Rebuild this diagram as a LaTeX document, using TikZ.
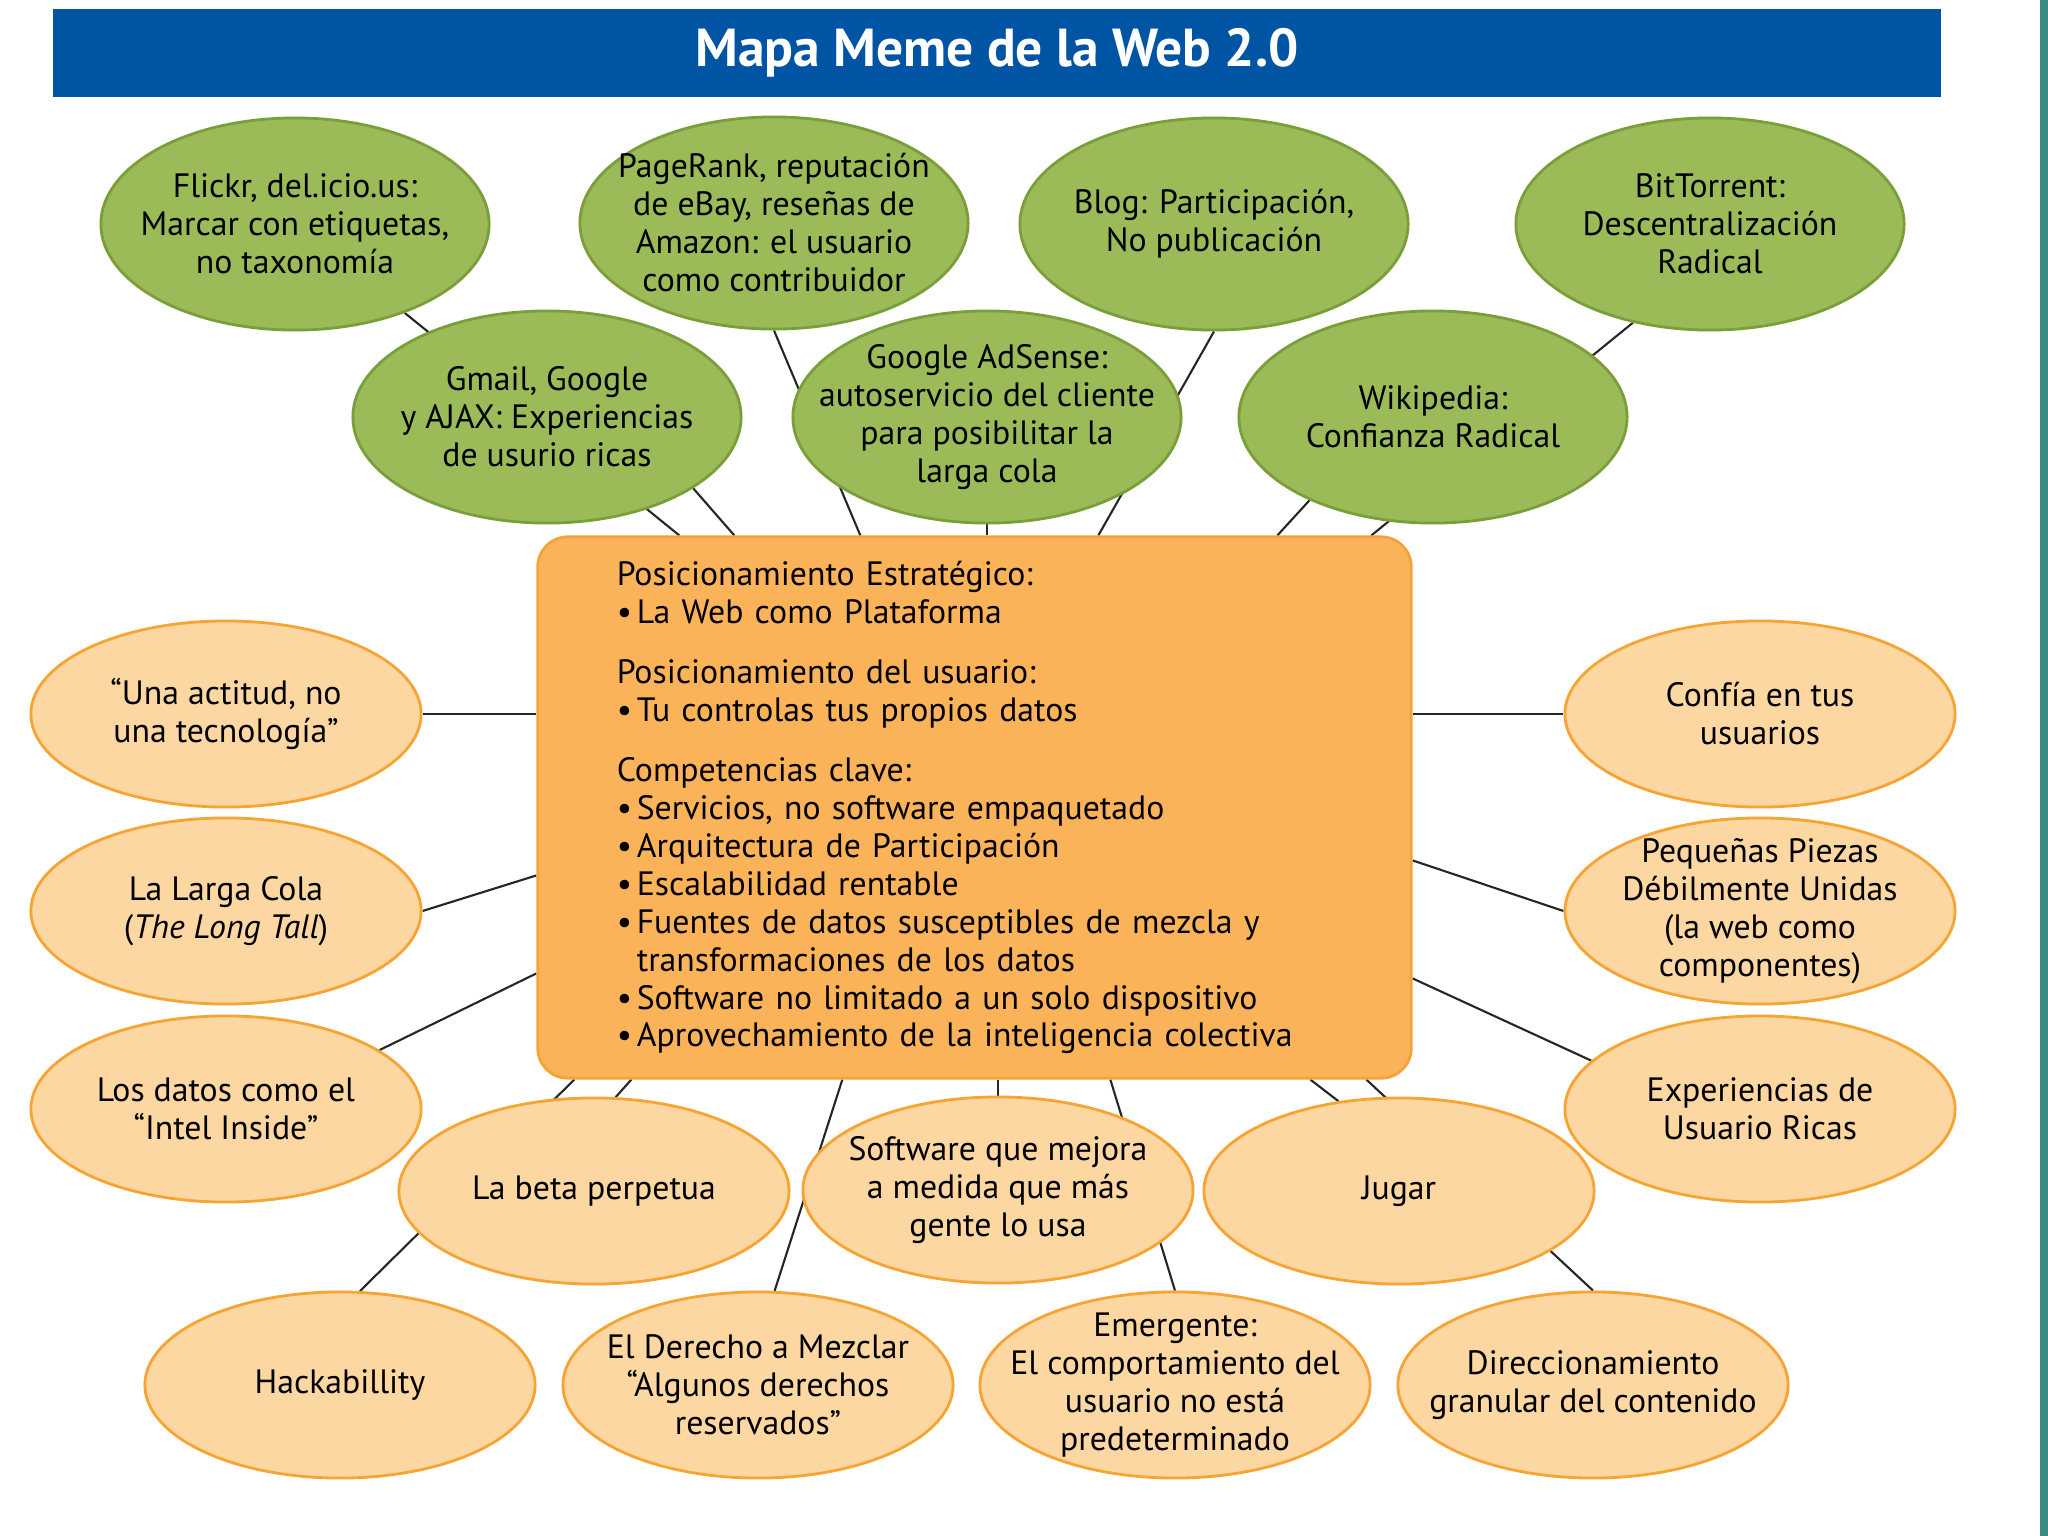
\documentclass[tikz,border=0pt]{standalone}
\usepackage{fontspec}
\setmainfont{PT Sans}
\usetikzlibrary{shapes.geometric, calc, backgrounds}
\definecolor{cTitle}{RGB}{0,84,164}
\definecolor{cLeaf}{RGB}{155,187,89}
\definecolor{cLeafLine}{RGB}{122,158,58}
\definecolor{cPeach}{RGB}{253,215,162}
\definecolor{cPeachLine}{RGB}{246,164,52}
\definecolor{cCore}{RGB}{251,179,90}
\definecolor{cCoreLine}{RGB}{246,162,58}
\definecolor{cStripeA}{RGB}{58,140,128}
\definecolor{cStripeB}{RGB}{150,200,30}
\newcommand{\bodyfont}{\fontsize{9.6}{10.8}\selectfont}
\newcommand{\titlefont}{\fontsize{15.2}{18}\selectfont\bfseries}
\newcommand{\itm}{\makebox[0.2cm][l]{•}}
\tikzset{
	greenbub/.style={ellipse, draw=cLeafLine, line width=0.8pt, fill=cLeaf, minimum width=3.88cm, minimum height=2.12cm, inner xsep=-0.9cm, inner ysep=-0.6cm, align=center},
	peachbub/.style={ellipse, draw=cPeachLine, line width=0.8pt, fill=cPeach, minimum width=3.9cm, minimum height=1.86cm, inner xsep=-0.9cm, inner ysep=-0.6cm, align=center},
	corebox/.style ={rectangle, rounded corners=0.3cm, draw=cCoreLine, line width=0.8pt, fill=cCore, minimum width=8.73cm, minimum height=5.41cm, text width=7.15cm, align=left, inner sep=0pt},
	spoke/.style   ={line width=0.6pt, black!85},
}

\begin{document}
\begin{tikzpicture}[x=0.01cm, y=-0.01cm, font=\bodyfont]
	\useasboundingbox (0,0) rectangle (2048,1536);
	% title bar and side stripe
	\node[fill=cTitle, minimum width=18.86cm, minimum height=0.87cm, inner sep=0pt, text=white, font=\titlefont] (title) at (997,53) {Mapa Meme de la Web 2.0};
	\shade[top color=cStripeA, middle color=cStripeB, bottom color=cStripeA] (2040,0) rectangle (2048,1536);
	% core
	\node[corebox] (core) at (974.5,807.5) {Posicionamiento Estratégico:\\
		\itm La Web como Plataforma\\[0.22cm]
		Posicionamiento del usuario:\\
		\itm Tu controlas tus propios datos\\[0.22cm]
		Competencias clave:\\
		\itm Servicios, no software empaquetado\\
		\itm Arquitectura de Participación\\
		\itm Escalabilidad rentable\\
		\itm Fuentes de datos susceptibles de mezcla y\\
		\hspace*{0.2cm}transformaciones de los datos\\
		\itm Software no limitado a un solo dispositivo\\
		\itm Aprovechamiento de la inteligencia colectiva};
	% examples (green)
	\node[greenbub] (flickr) at (295,224) {Flickr, del.icio.us:\\Marcar con etiquetas,\\no taxonomía};
	\node[greenbub] (pagerank) at (774,223) {PageRank, reputación\\de eBay, reseñas de\\Amazon: el usuario\\como contribuidor};
	\node[greenbub] (blog) at (1214,224) {Blog: Participación,\\No publicación};
	\node[greenbub] (bittorrent) at (1710,224) {BitTorrent:\\Descentralización\\Radical};
	\node[greenbub] (gmail) at (547,417) {Gmail, Google\\y AJAX: Experiencias\\de usurio ricas};
	\node[greenbub] (adsense) at (987,417) {Google AdSense:\\autoservicio del cliente\\para posibilitar la\\larga cola};
	\node[greenbub] (wiki) at (1433,417) {Wikipedia:\\Confianza Radical};
	% principles (peach)
	\node[peachbub] (actitud) at (226,714) {“Una actitud, no\\una tecnología”};
	\node[peachbub] (larga) at (226,911) {La Larga Cola\\(\textit{The Long Tall})};
	\node[peachbub] (datos) at (226,1109) {Los datos como el\\“Intel Inside”};
	\node[peachbub] (confia) at (1760,714) {Confía en tus\\usuarios};
	\node[peachbub] (piezas) at (1760,911) {Pequeñas Piezas\\Débilmente Unidas\\(la web como\\componentes)};
	\node[peachbub] (exper) at (1760,1109) {Experiencias de\\Usuario Ricas};
	\node[peachbub] (beta) at (594,1191) {La beta perpetua};
	\node[peachbub] (software) at (998,1190) {Software que mejora\\a medida que más\\gente lo usa};
	\node[peachbub] (jugar) at (1399,1191) {Jugar};
	\node[peachbub] (hack) at (340,1385) {Hackabillity};
	\node[peachbub] (derecho) at (758,1385) {El Derecho a Mezclar\\“Algunos derechos\\reservados”};
	\node[peachbub] (emergente) at (1175,1385) {Emergente:\\El comportamiento del\\usuario no está\\predeterminado};
	\node[peachbub] (direcc) at (1593,1385) {Direccionamiento\\granular del contenido};
	% spokes, behind everything
	\begin{scope}[on background layer]
		\fill[white] (0,0) rectangle (2048,1536);
		\draw[spoke] (flickr) -- ($(core.north west)+(143,0)$);
		\draw[spoke] (gmail.-26) -- ($(core.north west)+(198,0)$);
		\draw[spoke] (pagerank.south) -- ($(core.north west)+(324,0)$);
		\draw[spoke] (adsense.south) -- (adsense.south |- core.north);
		\draw[spoke] (blog.south) -- ($(core.north west)+(562,0)$);
		\draw[spoke] (wiki.-146) -- ($(core.north west)+(741,0)$);
		\draw[spoke] (bittorrent.-128) -- ($(core.north west)+(835,0)$);
		\draw[spoke] (actitud.east) -- (actitud.east -| core.west);
		\draw[spoke] (larga.east) -- ($(core.north west)+(0,340)$);
		\draw[spoke] (datos.21) -- ($(core.north west)+(0,438)$);
		\draw[spoke] (confia.west) -- (confia.west -| core.east);
		\draw[spoke] (piezas.west) -- ($(core.north east)+(0,325)$);
		\draw[spoke] (exper.164) -- ($(core.north east)+(0,443)$);
		\draw[spoke] (hack.78) -- ($(core.south west)+(38,0)$);
		\draw[spoke] (beta.77) -- ($(core.south west)+(95,0)$);
		\draw[spoke] (derecho.80) -- ($(core.south west)+(306,0)$);
		\draw[spoke] (software.north) -- (software.north |- core.south);
		\draw[spoke] (emergente.north) -- ($(core.south west)+(574,0)$);
		\draw[spoke] (jugar.124) -- ($(core.south west)+(774,0)$);
		\draw[spoke] (direcc.north) -- ($(core.south west)+(830,0)$);
	\end{scope}
\end{tikzpicture}
\end{document}
